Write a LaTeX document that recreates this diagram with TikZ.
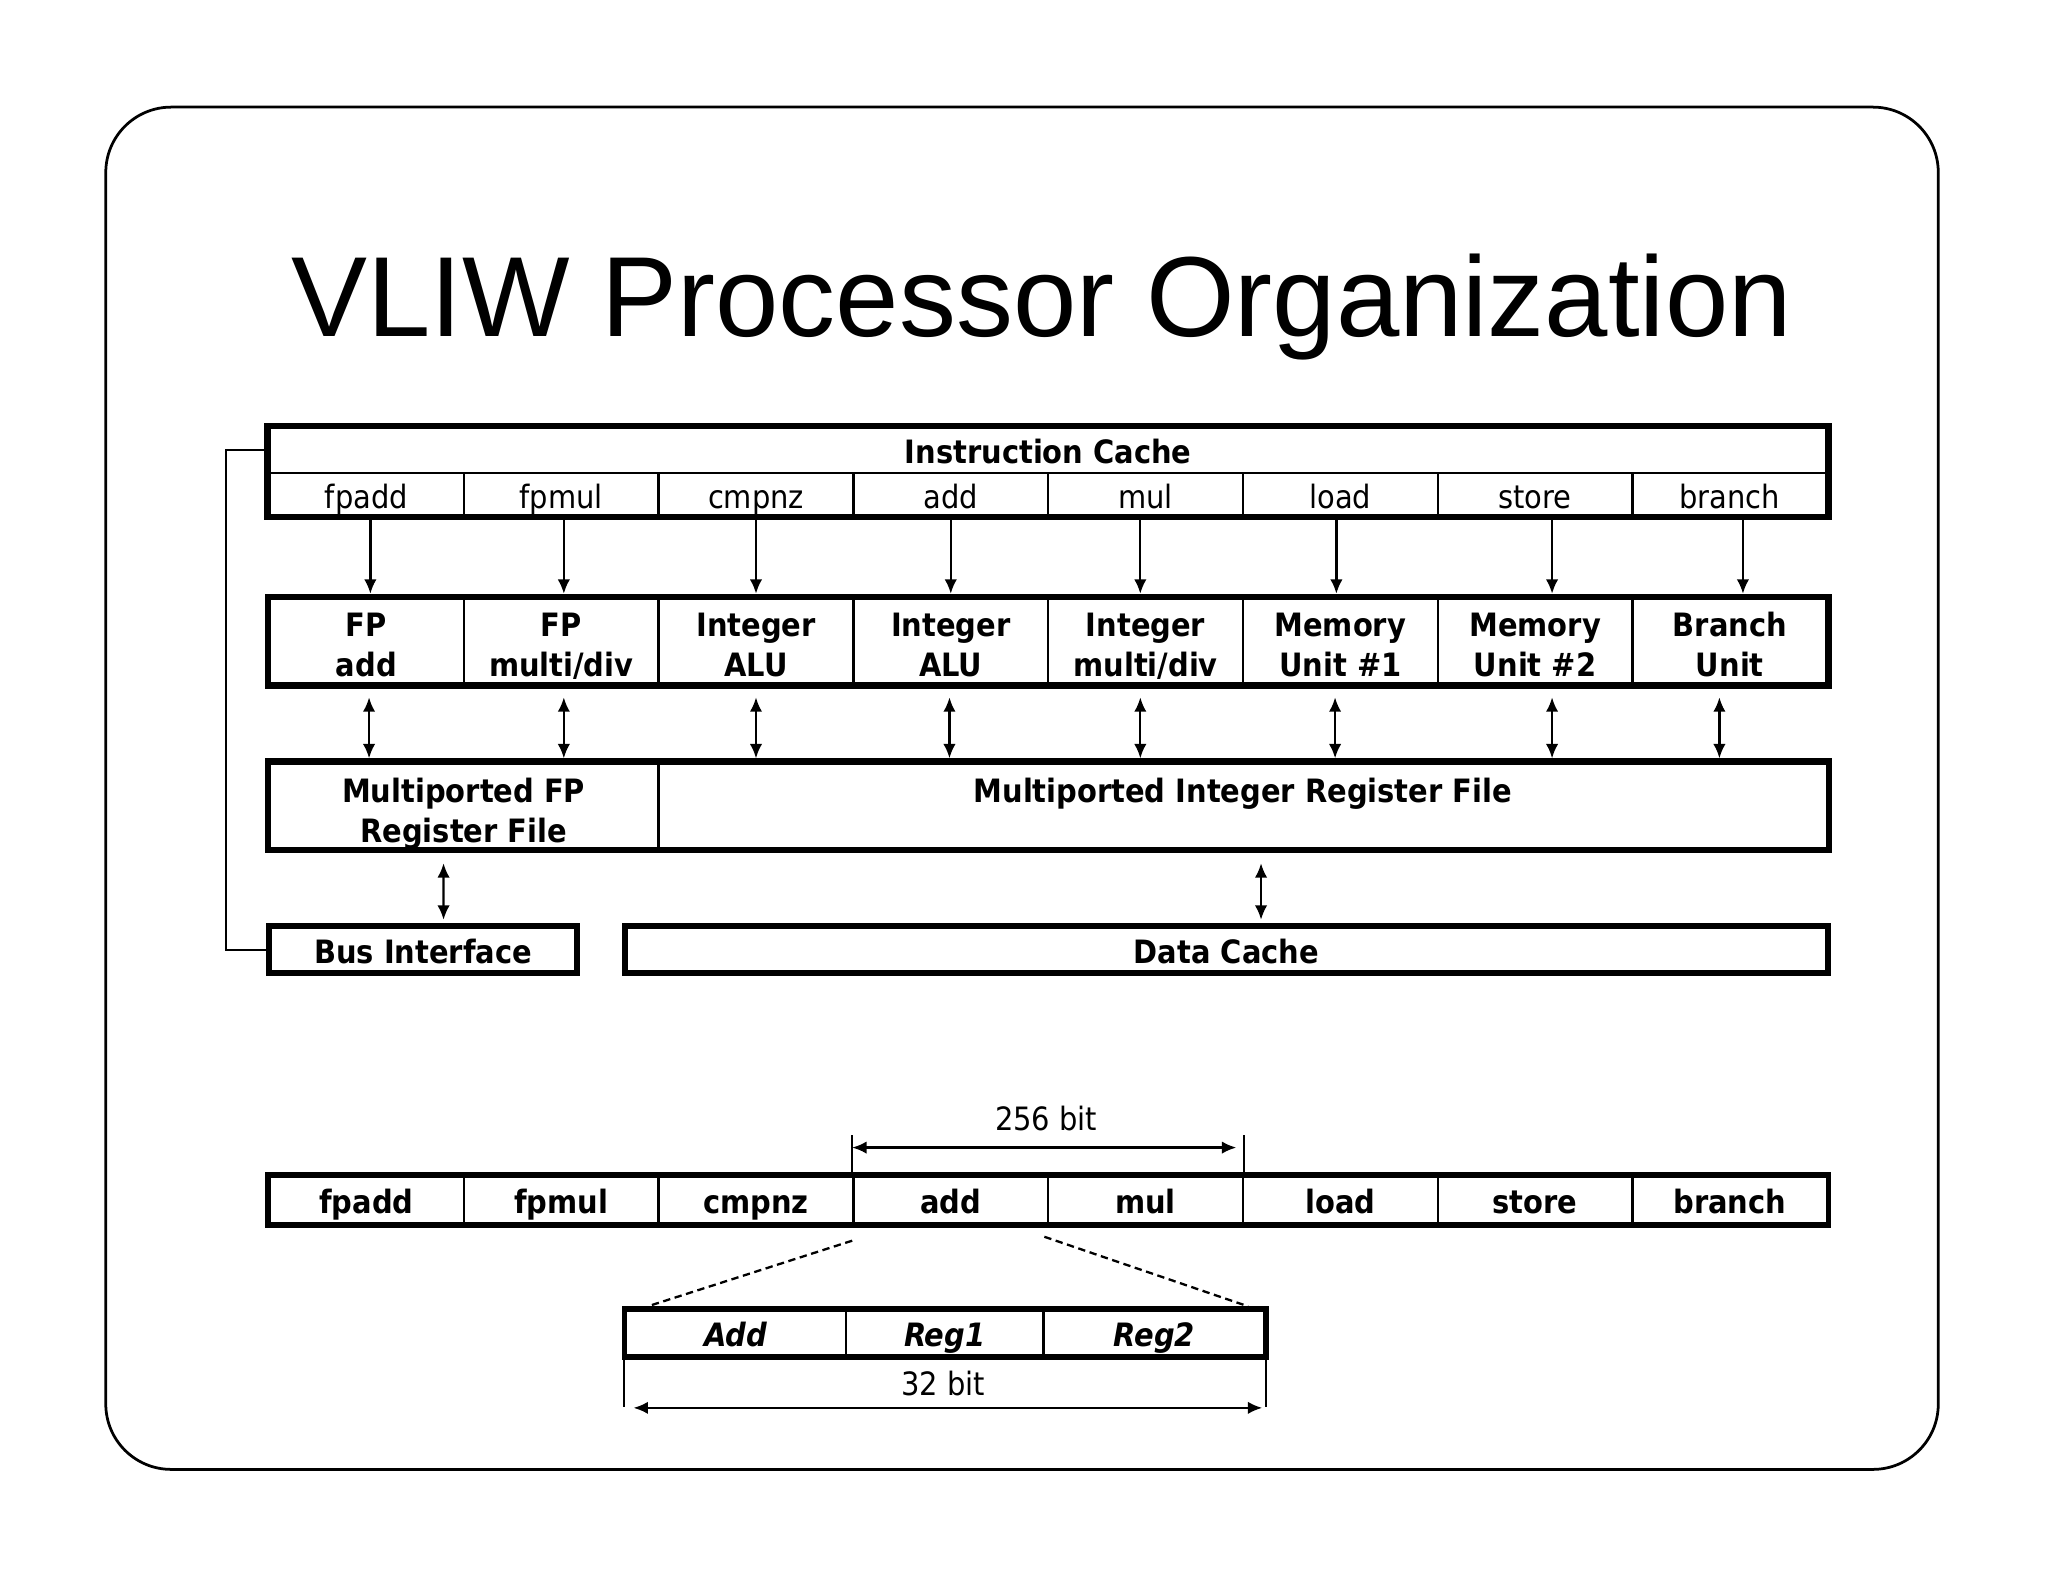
\documentclass[tikz,border=0pt]{standalone}
\usepackage{fontspec}
\setmainfont{Liberation Sans}
\newfontfamily\pixfont{DejaVu Sans Condensed}
\newcommand{\diagfont}{\pixfont\fontsize{7}{8.8}\selectfont}
\usetikzlibrary{arrows.meta, calc, positioning}

\tikzset{
  box/.style={draw, line width=1.4pt},
  wordbox/.style={draw, line width=1.2pt},
  cell/.style={draw, line width=0.5pt, inner sep=0pt, font=\diagfont},
  oneline/.style={text height=6pt, text depth=0pt},
  opcell/.style={cell, oneline, minimum width=1.49125cm, minimum height=0.33cm},
  unitcell/.style={cell, minimum width=1.49125cm, minimum height=0.66cm, align=center,
    text height=15.4pt, text depth=0pt, font=\diagfont\bfseries},
  regcell/.style={cell, minimum height=0.66cm, align=center,
    text height=16pt, text depth=0pt, font=\diagfont\bfseries},
  wordcell/.style={cell, oneline, minimum width=1.49125cm, minimum height=0.365cm, font=\diagfont\bfseries},
  fieldcell/.style={cell, oneline, minimum height=0.35cm, font=\diagfont\bfseries\itshape},
  endbox/.style={draw, oneline, line width=1.3pt, inner sep=0pt, minimum height=0.36cm, font=\diagfont\bfseries},
  flow/.style={line width=0.5pt},
  dimline/.style={line width=0.45pt},
}

\begin{document}
\begin{tikzpicture}[x=0.01cm, y=-0.01cm, >={Latex[length=1.1mm,width=0.95mm]}, font=\diagfont]
  \useasboundingbox (0,0) rectangle (1568,1211);

  % Slide frame and title
  \draw[line width=0.6pt, rounded corners=0.5cm] (81,82) rectangle (1484,1125);
  \node[anchor=base, font=\normalfont\fontsize{24.8}{30}\selectfont] (title) at (797.7,258) {VLIW Processor Organization};

  % Instruction cache
  \node[cell, oneline, minimum width=11.93cm, minimum height=0.35cm, font=\diagfont\bfseries] (ic) at (802.5,344.5) {Instruction Cache};
  \foreach \op [count=\i] in {fpadd,fpmul,cmpnz,add,mul,load,store,branch}
    \node[opcell] (op\i) at ({206+149.125*(\i-0.5)},378.5) {\op};
  \draw[box] (ic.north west) rectangle (op8.south east);

  % Functional units
  \foreach \lbl [count=\i] in {{FP\\add},{FP\\multi/div},{Integer\\ALU},{Integer\\ALU},
      {Integer\\multi/div},{Memory\\Unit \#1},{Memory\\Unit \#2},{Branch\\Unit}}
    \node[unitcell] (fu\i) at ({206+149.125*(\i-0.5)},491) {\lbl};
  \draw[box] (fu1.north west) rectangle (fu8.south east);

  % Register files
  \node[regcell, minimum width=2.98cm] (fprf) at (355,617) {Multiported FP\\Register File};
  \node[regcell, minimum width=8.95cm] (intrf) at (951.5,617) {Multiported Integer Register File\\\strut};
  \draw[box] (fprf.north west) rectangle (intrf.south east);

  % Bus interface and data cache
  \node[endbox, minimum width=2.36cm] (bus) at (324,727) {Bus Interface};
  \node[endbox, minimum width=9.20cm] (dcache) at (939,727) {Data Cache};

  % Instruction slots to units
  \foreach \i/\dx in {1/3,2/2,3/0,4/0,5/-4,6/-3,7/13,8/10}
    \draw[flow, ->] ($(op\i.south)+(\dx,0)$) -- ($(fu\i.north)+(\dx,-2.5)$);

  % Units to register files
  \foreach \i/\dx in {1/2,2/2,3/0,4/-1,5/-4,6/-4,7/13,8/-8} {
    \coordinate (rfin\i) at (fu\i.south |- intrf.north);
    \draw[flow, <->] ($(fu\i.south)+(\dx,9)$) -- ($(rfin\i)+(\dx,-2.5)$);
  }
  \draw[flow, <->] ($(fprf.south)+(-15.4,10)$) -- ($(bus.north)+(15.6,-2.5)$);
  \draw[flow, <->] ($(intrf.south)+(14,10)$) -- ($(dcache.north)+(26.5,-2.5)$);

  % Feedback from instruction cache
  \draw[line width=0.45pt] (ic.west) -- ++(-32,0) |- (bus.west);

  % Instruction word
  \foreach \op [count=\i] in {fpadd,fpmul,cmpnz,add,mul,load,store,branch}
    \node[wordcell] (w\i) at ({206+149.125*(\i-0.5)},918.75) {\op};
  \draw[wordbox] (w1.north west) rectangle (w8.south east);

  \draw[dimline] (w4.north west) -- ++(0,-31);
  \draw[dimline] (w5.north east) -- ++(0,-31);
  \draw[flow, <->] ($(w4.north west)+(0,-21)$) -- ($(w5.north east)+(-6,-21)$);
  \node (bits256) at (801,856) {256 bit};

  % Operation fields
  \node[fieldcell, minimum width=1.685cm] (fadd) at (563.25,1020.5) {Add};
  \node[fieldcell, minimum width=1.515cm] (freg1) at (723.25,1020.5) {Reg1};
  \node[fieldcell, minimum width=1.695cm] (freg2) at (883.75,1020.5) {Reg2};
  \draw[wordbox] (fadd.north west) rectangle (freg2.south east);

  \draw[flow, dash pattern=on 1.6pt off 1pt] ($(w4.south west)+(0,12)$) -- ($(fadd.north west)+(18,-2)$);
  \draw[flow, dash pattern=on 1.6pt off 1pt] ($(w5.south west)+(-2,9)$) -- ($(freg2.north east)+(-14,-2)$);

  \draw[dimline] (fadd.south west) -- ++(0,38);
  \draw[dimline] (freg2.south east) -- ++(0,38);
  \draw[flow, <->] ($(fadd.south west)+(7,39)$) -- ($(freg2.south east)+(-3,39)$);
  \node (bits32) at (722,1059) {32 bit};
\end{tikzpicture}
\end{document}
